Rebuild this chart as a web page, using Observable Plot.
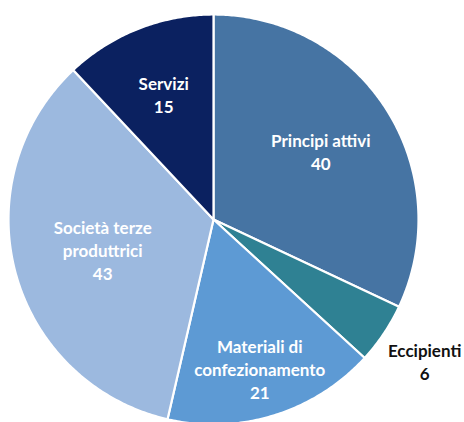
<!DOCTYPE html>
<html>
<head>
<meta charset="utf-8">
<script src="https://cdn.jsdelivr.net/npm/d3@7"></script>
<script src="https://cdn.jsdelivr.net/npm/@observablehq/plot@0.6"></script>
<style>
  html, body { margin: 0; padding: 0; background: #fff; overflow: hidden; }
</style>
</head>
<body>
<div id="chart"></div>
<script>
// Data (clockwise from 12 o'clock)
const categories = ["Principi attivi", "Eccipienti", "Materiali di confezionamento", "Società terze produttrici", "Servizi"];
const labelLines = ["Principi attivi", "Eccipienti", "Materiali di\nconfezionamento", "Società terze\nproduttrici", "Servizi"];
const values = [40, 6, 21, 43, 15];
const colors = ["#4674a3", "#2f8193", "#5d9ad4", "#9cb9df", "#0b2160"];
const labelColors = ["white", "#111", "white", "white", "white"];
const labelRadius = [0.62, 1.24, 0.76, 0.56, 0.66];

const arcs = d3.pie().sort(null).value(d => d)(values);

const slicePts = [];
arcs.forEach((a, i) => {
  const n = Math.max(4, Math.ceil((a.endAngle - a.startAngle) / 0.01));
  slicePts.push({name: categories[i], x: 0, y: 0});
  for (let k = 0; k <= n; k++) {
    const t = a.startAngle + (a.endAngle - a.startAngle) * k / n;
    slicePts.push({name: categories[i], x: Math.sin(t), y: Math.cos(t)});
  }
  slicePts.push({name: categories[i], x: 0, y: 0});
});

const labels = arcs.map((a, i) => {
  const m = (a.startAngle + a.endAngle) / 2;
  return {
    text: labelLines[i] + "\n" + values[i],
    x: labelRadius[i] * Math.sin(m),
    y: labelRadius[i] * Math.cos(m),
    c: labelColors[i]
  };
});

const chart = Plot.plot({
  width: 464,
  height: 422,
  x: {domain: [-1, 1], range: [8, 418], axis: null},
  y: {domain: [-1, 1], range: [424, 14], axis: null},
  color: {domain: categories, range: colors},
  style: {background: "white"},
  marks: [
    Plot.line(slicePts, {x: "x", y: "y", z: "name", fill: "name", stroke: "white", strokeWidth: 2.2, strokeLinejoin: "round"}),
    Plot.text(labels, {
      x: "x", y: "y", text: "text", fill: d => d.c,
      fontFamily: "Lato, 'Open Sans', sans-serif", fontWeight: "bold", fontSize: 17,
      lineHeight: 1.36, textAnchor: "middle"
    })
  ]
});
document.getElementById("chart").appendChild(chart);
</script>
</body>
</html>
